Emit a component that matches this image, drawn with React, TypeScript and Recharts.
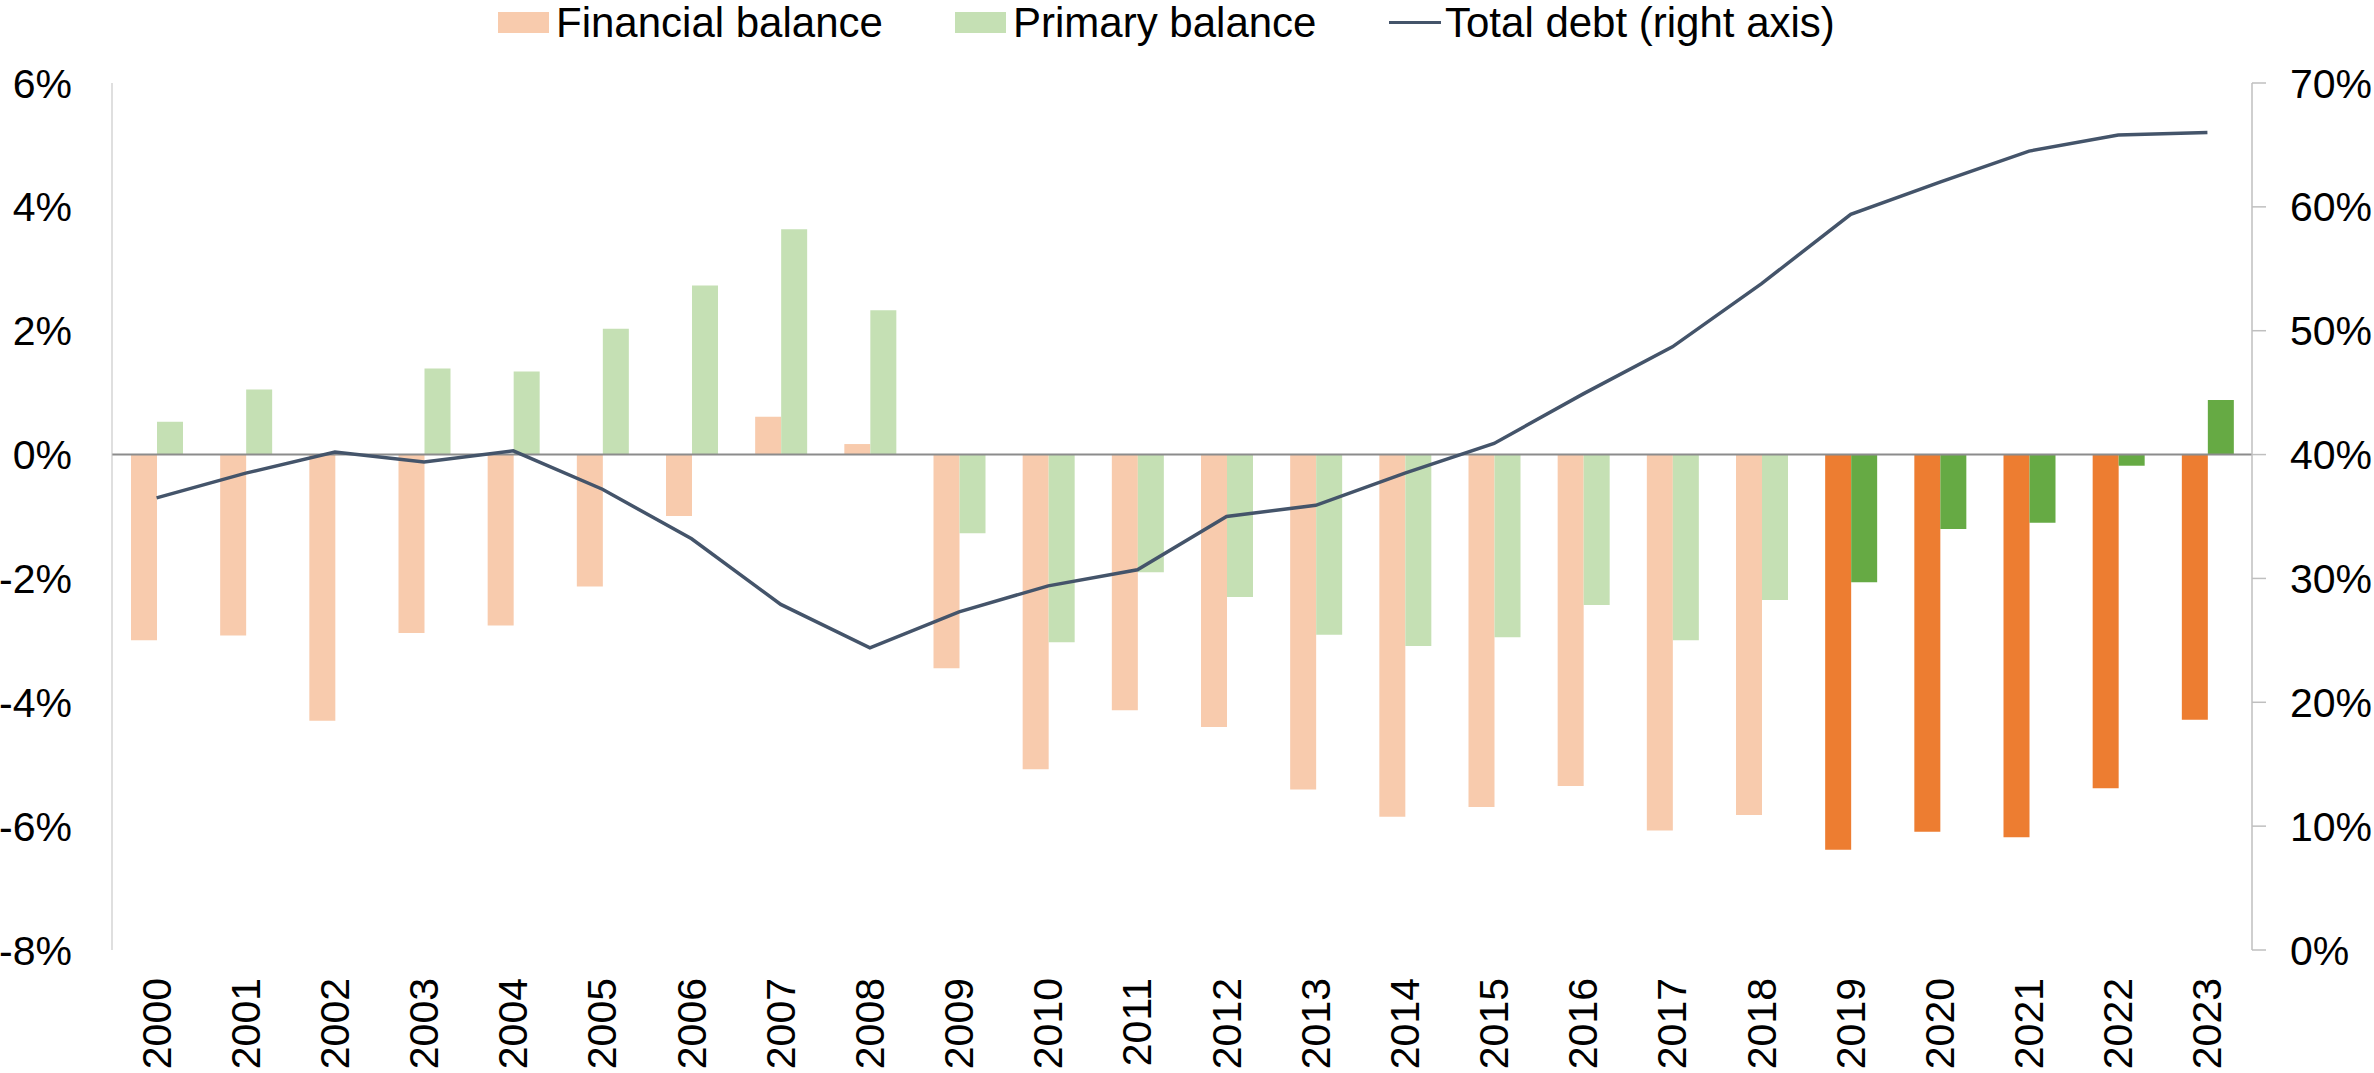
import React from 'react';
import {
  ComposedChart,
  Bar,
  Line,
  XAxis,
  YAxis,
  ReferenceLine,
  Cell,
} from 'recharts';

const years = [
  '2000', '2001', '2002', '2003', '2004', '2005', '2006', '2007', '2008', '2009',
  '2010', '2011', '2012', '2013', '2014', '2015', '2016', '2017', '2018', '2019',
  '2020', '2021', '2022', '2023',
];

const financialBalance = [
  -3.0, -2.92, -4.3, -2.88, -2.76, -2.13, -0.99, 0.61, 0.17, -3.45,
  -5.08, -4.13, -4.4, -5.41, -5.85, -5.69, -5.35, -6.07, -5.82, -6.38,
  -6.09, -6.18, -5.39, -4.28,
];

const primaryBalance = [
  0.53, 1.05, 0, 1.39, 1.34, 2.03, 2.73, 3.64, 2.33, -1.27,
  -3.03, -1.9, -2.3, -2.91, -3.09, -2.95, -2.43, -3.0, -2.35, -2.06,
  -1.2, -1.1, -0.18, 0.88,
];

const totalDebt = [
  36.5, 38.5, 40.2, 39.4, 40.3, 37.2, 33.2, 27.9, 24.4, 27.3,
  29.4, 30.7, 35.0, 35.9, 38.5, 40.9, 44.9, 48.7, 53.8, 59.4,
  62.0, 64.5, 65.8, 66.0,
];

const leftTicks = [-8, -6, -4, -2, 0, 2, 4, 6];
const rightTicks = [0, 10, 20, 30, 40, 50, 60, 70];

const highlightFromYear = '2019';

const data = years.map((y, i) => ({
  year: y,
  fb: financialBalance[i],
  pb: primaryBalance[i],
  debt: totalDebt[i],
}));

const FB_LIGHT = '#F8CBAD';
const FB_DARK = '#ED7D31';
const PB_LIGHT = '#C5E0B4';
const PB_DARK = '#66AA44';
const DEBT = '#44546A';
const FONT = '"Liberation Sans", Arial, sans-serif';

const YearTick = (props: any) => {
  const { x, y, payload } = props;
  const ty = y + 28;
  return (
    <text
      x={x}
      y={ty}
      transform={`rotate(-90, ${x}, ${ty})`}
      textAnchor="end"
      dominantBaseline="central"
      fontSize={41}
      fontFamily={FONT}
      fill="#000"
    >
      {payload.value}
    </text>
  );
};

const LegendOverlay = () => (
  <div
    style={{
      position: 'absolute',
      left: 0,
      top: 0,
      width: 2374,
      height: 46,
      fontFamily: FONT,
      fontSize: 42,
      color: '#000',
    }}
  >
    <div style={{ position: 'absolute', left: 498, top: 12, width: 51, height: 21, background: FB_LIGHT }} />
    <div style={{ position: 'absolute', left: 556, top: 0, lineHeight: '46px', whiteSpace: 'nowrap' }}>Financial balance</div>
    <div style={{ position: 'absolute', left: 955, top: 12, width: 51, height: 21, background: PB_LIGHT }} />
    <div style={{ position: 'absolute', left: 1013, top: 0, lineHeight: '46px', whiteSpace: 'nowrap' }}>Primary balance</div>
    <div style={{ position: 'absolute', left: 1389, top: 21, width: 52, height: 3, background: DEBT }} />
    <div style={{ position: 'absolute', left: 1445, top: 0, lineHeight: '46px', whiteSpace: 'nowrap' }}>Total debt (right axis)</div>
  </div>
);

export default function App() {
  return (
    <div style={{ position: 'absolute', left: 0, top: 0, width: 2374, height: 1073, background: '#fff' }}>
      <ComposedChart
        width={2374}
        height={1073}
        data={data}
        margin={{ top: 83, right: 0, bottom: 0, left: 0 }}
        barGap={0}
        barSize={26}
      >
        <XAxis
          dataKey="year"
          xAxisId="x"
          axisLine={false}
          tickLine={false}
          tickSize={0}
          tickMargin={0}
          height={123}
          interval={0}
          tick={<YearTick />}
        />
        <YAxis
          yAxisId="left"
          orientation="left"
          domain={[-8, 6]}
          ticks={leftTicks}
          interval={0}
          width={112}
          axisLine={{ stroke: '#BFBFBF', strokeWidth: 1 }}
          tickLine={false}
          tickSize={0}
          tickMargin={40}
          tickFormatter={(v: number) => `${v}%`}
          tick={{ fontSize: 41, fontFamily: FONT, fill: '#000' }}
        />
        <YAxis
          yAxisId="right"
          orientation="right"
          domain={[0, 70]}
          ticks={rightTicks}
          interval={0}
          width={122}
          axisLine={{ stroke: '#BFBFBF', strokeWidth: 1.5 }}
          tickLine={{ stroke: '#BFBFBF', strokeWidth: 1.5 }}
          tickSize={14}
          tickMargin={24}
          tickFormatter={(v: number) => `${v}%`}
          tick={{ fontSize: 41, fontFamily: FONT, fill: '#000', textAnchor: 'start' }}
        />
        <ReferenceLine yAxisId="left" xAxisId="x" y={0} stroke="#8C8C8C" strokeWidth={2} />
        <Bar dataKey="fb" yAxisId="left" xAxisId="x" isAnimationActive={false} name="Financial balance">
          {data.map((d) => (
            <Cell key={`fb-${d.year}`} fill={d.year >= highlightFromYear ? FB_DARK : FB_LIGHT} />
          ))}
        </Bar>
        <Bar dataKey="pb" yAxisId="left" xAxisId="x" isAnimationActive={false} name="Primary balance">
          {data.map((d) => (
            <Cell key={`pb-${d.year}`} fill={d.year >= highlightFromYear ? PB_DARK : PB_LIGHT} />
          ))}
        </Bar>
        <Line
          dataKey="debt"
          yAxisId="right"
          xAxisId="x"
          type="linear"
          stroke={DEBT}
          strokeWidth={3.5}
          dot={false}
          activeDot={false}
          isAnimationActive={false}
          name="Total debt (right axis)"
        />
      </ComposedChart>
      <LegendOverlay />
    </div>
  );
}
